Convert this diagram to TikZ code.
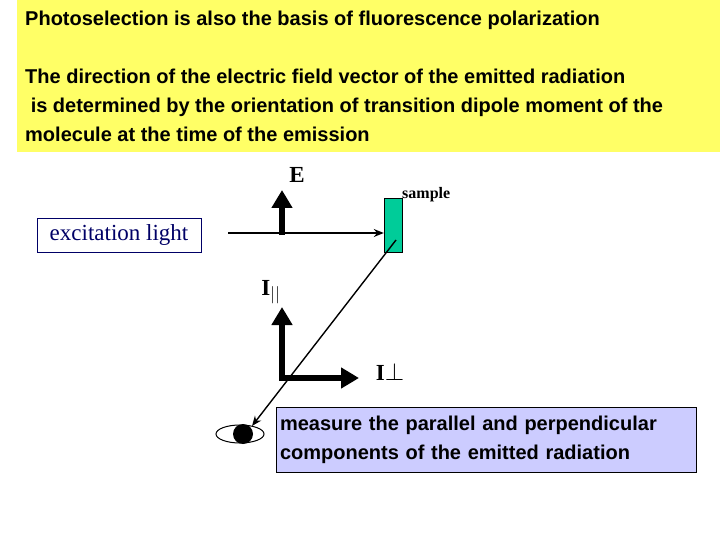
\documentclass[tikz,border=0pt]{standalone}
\usepackage{fontspec}
\setmainfont{Liberation Serif}
\newfontfamily\arialfont{Liberation Sans}
\usepackage{tikz}
\usetikzlibrary{arrows.meta}
\definecolor{noteyellow}{RGB}{255,255,102}
\definecolor{samplegreen}{RGB}{0,204,153}
\definecolor{notelilac}{RGB}{204,204,255}
\definecolor{lightblue}{RGB}{0,0,102}

\begin{document}
\begin{tikzpicture}[x=1pt,y=-1pt,inner sep=0pt,
  bigarrow/.style={line width=6.5pt,-{Triangle[length=18pt,width=20pt]}},
  thinarrow/.style={line width=1.4pt,-{Stealth[length=10pt,width=8pt]}},
  headtext/.style={font=\arialfont\bfseries\fontsize{20}{29}\selectfont,anchor=west,align=left}]
\useasboundingbox (0,0) rectangle (720,540);
\fill[noteyellow] (17,0) rectangle (720,152);
\node[headtext] (title) at (25,20) {Photoselection is also the basis of fluorescence polarization};
\node[headtext] (body) at (25,105) {The direction of the electric field vector of the emitted radiation\\
\ is determined by the orientation of transition dipole moment of the\\
molecule at the time of the emission};

\node[draw=lightblue,fill=white,minimum width=164pt,minimum height=34pt,font=\fontsize{23}{26}\selectfont,text=lightblue] (light) at (119,235) {excitation light};
\node[draw=black,fill=samplegreen,minimum width=18pt,minimum height=54pt] (sample) at (393,225) {};
\node[anchor=west,font=\bfseries\fontsize{16}{18}\selectfont] (samplelab) at (402,195) {sample};
\coordinate (beamstart) at (228,233);
\draw[thinarrow] (beamstart) -- (sample.west |- beamstart);
\coordinate (Ebase) at (282,235);
\draw[bigarrow] (Ebase) -- ++(0,-45);
\node[font=\bfseries\fontsize{23}{26}\selectfont] (E) at (297,175) {E};

\draw[line width=1pt,draw=black,fill=white] (240,434) ellipse (24pt and 9pt);
\fill (243,434) circle (10pt);
\coordinate (eye) at (252,426);
\draw[thinarrow] (396,240) -- (eye);

\coordinate (Ibase) at (282,378);
\draw[bigarrow] ([yshift=3pt]Ibase) -- ++(0,-68);
\draw[bigarrow] ([xshift=-3pt]Ibase) -- ++(80,0);
\node[font=\bfseries\fontsize{23}{26}\selectfont] (Ipar) at (271,292) {I$_{||}$};
\node[font=\bfseries\fontsize{23}{26}\selectfont] (Iperp) at (390,372) {I$\perp$};

\node[draw=black,fill=notelilac,minimum width=420pt,minimum height=65pt,text width=412pt,align=left,font=\arialfont\bfseries\fontsize{20}{29}\selectfont] (note) at (486,440) {measure the parallel and perpendicular\\components of the emitted radiation};
\end{tikzpicture}
\end{document}
